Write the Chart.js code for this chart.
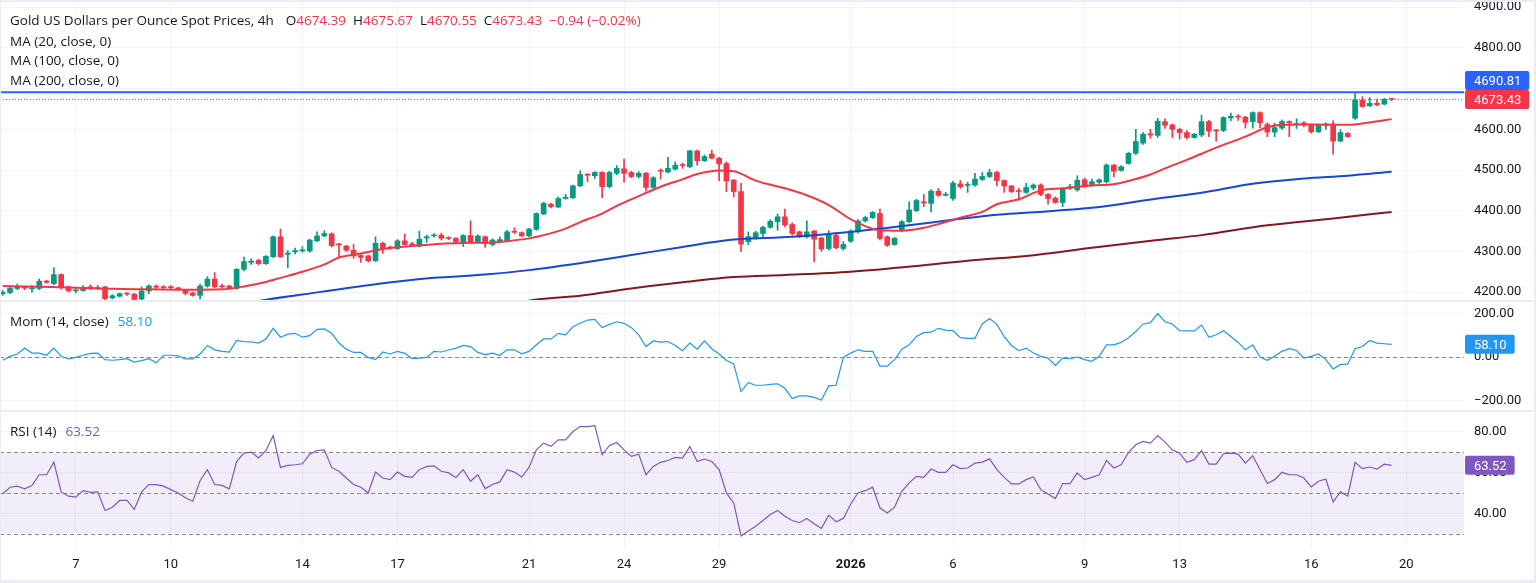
<!DOCTYPE html>
<html>
<head>
<meta charset="utf-8">
<script src="https://cdn.jsdelivr.net/npm/chart.js@4.4.1/dist/chart.umd.min.js"></script>
<style>
  body { margin: 0; background: #fff; }
  #wrap { position: relative; width: 1536px; height: 583px; overflow: hidden; font-family: Roboto, "Noto Sans", sans-serif; }
  canvas { position: absolute; left: 0; }
  .bar { position: absolute; background: #e9ecf2; z-index: 3; }
  .legend { position: absolute; left: 10px; font-family: "Open Sans", Roboto, sans-serif; font-size: 13.5px; line-height: 16px; color: #131722; white-space: pre; z-index: 4; }
  .dn { color: #f23645; }
  .g { margin-left: 7px; }
</style>
</head>
<body>
<div id="wrap">
  <canvas id="main" width="1536" height="300" style="top:0"></canvas>
  <canvas id="mom" width="1536" height="108" style="top:302px"></canvas>
  <canvas id="rsi" width="1536" height="171" style="top:412px"></canvas>

  <div class="bar" style="left:0;top:0;width:1536px;height:2px"></div>
  <div class="bar" style="left:0;top:300px;width:1536px;height:2px"></div>
  <div class="bar" style="left:0;top:410px;width:1536px;height:2px"></div>
  <div class="bar" style="left:0;top:580px;width:1536px;height:3px"></div>
  <div class="bar" style="left:1534px;top:0;width:2px;height:583px"></div>
  <div class="bar" style="left:0;top:0;width:1px;height:583px"></div>

  <div class="legend" style="top:12px">Gold US Dollars per Ounce Spot Prices, 4h<span class="g" style="margin-left:12px">O<span class="dn">4674.39</span></span><span class="g">H<span class="dn">4675.67</span></span><span class="g">L<span class="dn">4670.55</span></span><span class="g">C<span class="dn">4673.43</span></span><span class="g dn">−0.94 (−0.02%)</span></div>
  <div class="legend" style="top:33px">MA (20, close, 0)</div>
  <div class="legend" style="top:52px">MA (100, close, 0)</div>
  <div class="legend" style="top:72px">MA (200, close, 0)</div>
  <div class="legend" style="top:313px">Mom (14, close)<span class="g" style="margin-left:9px;color:#2196f3">58.10</span></div>
  <div class="legend" style="top:423px">RSI (14)<span class="g" style="margin-left:9px;color:#7e57c2">63.52</span></div>
</div>

<script>
// velas de 4h, indice 0..190
const opens = [
  4196,4199,4209,4212,4208,4209,4227,4221,4243,4213,
  4203,4204,4213,4209,4213,4186,4190,4197,4195,4183,
  4203,4214,4213,4213,4210,4205,4198,4192,4215,4232,
  4215,4215,4209,4256,4273,4278,4270,4287,4336,4293,
  4299,4301,4301,4326,4338,4343,4318,4313,4303,4290,
  4289,4277,4320,4310,4307,4326,4318,4313,4333,4338,
  4340,4334,4332,4323,4339,4324,4336,4317,4326,4325,
  4349,4346,4338,4354,4392,4416,4409,4430,4432,4461,
  4490,4486,4494,4459,4492,4503,4494,4484,4492,4457,
  4499,4495,4502,4513,4508,4547,4523,4539,4529,4516,
  4475,4447,4324,4334,4344,4359,4373,4385,4366,4348,
  4336,4350,4333,4307,4340,4307,4325,4348,4375,4383,
  4393,4336,4317,4352,4373,4400,4422,4418,4448,4438,
  4430,4466,4462,4463,4477,4484,4494,4474,4461,4449,
  4445,4456,4463,4440,4431,4420,4455,4451,4476,4462,
  4470,4471,4512,4499,4516,4541,4566,4589,4585,4619,
  4611,4600,4592,4580,4586,4619,4598,4597,4628,4632,
  4630,4619,4641,4612,4593,4603,4619,4612,4616,4611,
  4594,4610,4613,4571,4590,4627,4672,4658,4664,4662,
  4674.39
];
const highs = [
  4204,4212,4220,4215,4216,4232,4229,4260,4245,4215,
  4208,4216,4218,4216,4214,4194,4198,4199,4197,4213,
  4218,4218,4216,4216,4212,4207,4200,4220,4238,4248,
  4220,4217,4258,4286,4282,4281,4290,4338,4355,4302,
  4308,4312,4330,4348,4351,4346,4320,4315,4317,4292,
  4291,4336,4323,4313,4329,4343,4322,4350,4340,4344,
  4345,4336,4334,4341,4375,4341,4338,4331,4336,4352,
  4358,4348,4357,4395,4421,4418,4434,4440,4463,4498,
  4491,4496,4496,4497,4511,4527,4497,4496,4494,4484,
  4503,4531,4520,4517,4549,4549,4537,4549,4531,4520,
  4477,4467,4348,4350,4362,4378,4392,4404,4370,4350,
  4375,4352,4335,4351,4342,4324,4353,4378,4386,4398,
  4404,4338,4335,4376,4422,4428,4440,4452,4455,4445,
  4472,4474,4470,4492,4494,4502,4497,4476,4462,4455,
  4467,4466,4466,4442,4434,4455,4465,4486,4480,4478,
  4478,4515,4514,4511,4544,4600,4592,4600,4627,4626,
  4613,4603,4597,4590,4635,4622,4600,4631,4640,4636,
  4632,4643,4643,4616,4615,4623,4621,4626,4619,4613,
  4613,4616,4621,4599,4592,4690.81,4680,4678,4674,4676,
  4675.67
];
const lows = [
  4192,4196,4206,4206,4200,4206,4222,4218,4207,4200,
  4198,4202,4206,4206,4181,4183,4188,4192,4180,4181,
  4196,4209,4208,4208,4205,4193,4190,4183,4212,4211,
  4210,4207,4207,4252,4268,4267,4268,4285,4285,4260,
  4294,4298,4298,4324,4336,4311,4285,4300,4283,4273,
  4274,4275,4295,4305,4305,4315,4312,4311,4322,4335,
  4328,4329,4321,4312,4321,4320,4310,4314,4322,4323,
  4344,4336,4336,4352,4390,4407,4407,4428,4430,4459,
  4471,4479,4432,4456,4488,4470,4481,4480,4448,4455,
  4478,4493,4500,4504,4506,4512,4521,4527,4474,4447,
  4434,4300,4316,4330,4332,4357,4352,4360,4340,4334,
  4333,4274,4300,4303,4306,4303,4322,4345,4372,4381,
  4328,4312,4315,4348,4370,4398,4410,4397,4435,4436,
  4425,4455,4445,4460,4474,4481,4461,4445,4444,4426,
  4443,4451,4437,4416,4418,4410,4452,4448,4458,4460,
  4467,4468,4483,4497,4514,4538,4563,4578,4580,4602,
  4580,4576,4576,4578,4582,4582,4571,4594,4621,4622,
  4603,4603,4604,4582,4582,4600,4582,4602,4606,4591,
  4592,4600,4539,4569,4580,4624,4654,4656,4658,4660,
  4670.55
];
const closes = [
  4199,4209,4212,4210,4210,4227,4224,4243,4213,4203,
  4205,4212,4209,4211,4184,4191,4196,4195,4182,4203,
  4215,4212,4211,4211,4208,4197,4192,4215,4232,4213,
  4213,4209,4256,4275,4276,4270,4288,4336,4287,4296,
  4302,4304,4328,4338,4344,4314,4316,4303,4289,4285,
  4277,4320,4307,4308,4326,4317,4316,4330,4336,4340,
  4332,4332,4324,4339,4324,4338,4320,4328,4329,4348,
  4347,4338,4355,4393,4418,4410,4430,4433,4461,4489,
  4487,4494,4459,4494,4504,4492,4484,4492,4457,4481,
  4497,4504,4512,4511,4547,4523,4533,4529,4515,4473,
  4447,4318,4336,4346,4359,4374,4385,4365,4344,4336,
  4348,4330,4306,4340,4309,4317,4350,4375,4383,4396,
  4332,4315,4332,4373,4402,4425,4419,4448,4438,4440,
  4468,4459,4464,4478,4484,4494,4474,4461,4447,4447,
  4457,4463,4440,4430,4420,4453,4459,4475,4460,4471,
  4476,4512,4497,4508,4541,4570,4588,4586,4620,4610,
  4600,4592,4580,4588,4619,4596,4596,4629,4632,4630,
  4617,4641,4616,4593,4604,4619,4616,4614,4613,4594,
  4611,4613,4571,4592,4582,4672,4656,4664,4660,4674,
  4673.43
];

// medias moviles: [indice, valor]
const ma20 = [
  [0,4215],[5,4213],[10,4211],[15,4208],[20,4207],[25,4206],[30,4207],[33,4214],[36,4225],[38,4235],
  [41,4250],[44,4268],[46,4285],[49,4295],[52,4306],[56,4313],[60,4319],[64,4321],[67,4322],[69,4325],
  [72,4332],[74,4340],[77,4356],[79,4372],[82,4393],[84,4412],[87,4436],[90,4459],[93,4477],[95,4490],
  [98,4499],[100,4497],[103,4474],[107,4455],[110,4438],[113,4414],[116,4379],[118,4362],[120,4352],[123,4351],
  [126,4358],[128,4367],[131,4383],[134,4397],[136,4416],[139,4428],[142,4450],[145,4455],[149,4462],[152,4465],
  [154,4473],[157,4489],[159,4504],[162,4525],[164,4540],[166,4555],[170,4582],[173,4605],[175,4611],[179,4612],
  [184,4611],[187,4617],[190,4625]
];
const ma100 = [
  [30,4160],[35,4178],[41,4194],[50,4217],[59,4235],[66,4243],[72,4254],[80,4274],[86,4291],[93,4311],
  [100,4329],[106,4334],[113,4343],[122,4360],[131,4380],[136,4390],[140,4395],[149,4407],[158,4430],[164,4444],
  [171,4466],[178,4479],[184,4486],[190,4496]
];
const ma200 = [
  [70,4170],[72,4179],[79,4191],[86,4209],[93,4224],[100,4237],[107,4242],[116,4250],[126,4266],[133,4279],
  [140,4289],[149,4309],[158,4328],[164,4340],[173,4364],[182,4381],[190,4397]
];

const momentum = [
  -15,3,14,41,18,18,8,41,3,-9,
  -2,8,17,18,-12,-15,-12,-8,-23,-17,
  -8,-27,8,8,5,-9,-9,14,53,33,
  26,23,76,71,70,64,83,132,91,105,
  109,91,98,127,129,109,64,36,21,21,
  -2,-12,23,14,26,17,-8,-5,-2,26,
  23,32,41,53,48,21,11,18,8,33,
  33,15,26,56,83,83,109,102,139,155,
  170,173,135,150,162,155,135,102,48,74,
  68,71,53,29,64,36,74,38,14,-16,
  -32,-159,-118,-130,-130,-126,-123,-144,-191,-179,
  -179,-186,-198,-133,-130,-2,18,33,26,26,
  -42,-42,-12,36,56,94,112,114,132,124,
  121,89,86,86,152,177,150,94,53,29,
  41,18,3,-5,-39,-5,-8,0,-12,-20,
  3,56,56,67,89,117,152,158,200,162,
  152,121,120,120,147,91,102,121,94,67,
  33,56,0,-15,3,26,38,30,-5,3,
  14,-12,-55,-35,-32,38,48,76,64,61,
  58.10
];
const rsi = [
  49.5,52.8,53.3,52.0,53.6,58.9,58.9,65.1,50.5,48.4,
  47.9,51.1,50.3,50.5,41.4,43.0,46.3,46.3,41.9,50.5,
  54.1,54.1,53.3,51.6,50.0,47.6,45.9,56.0,61.4,54.1,
  53.7,52.0,65.4,69.5,70.0,67.1,70.7,78.1,62.5,63.5,
  63.8,64.3,69.0,70.8,71.1,62.5,60.6,57.3,54.1,52.8,
  50.0,60.2,57.3,56.5,60.2,58.1,57.6,61.4,63.0,63.3,
  60.6,59.8,57.6,61.4,55.7,58.9,52.1,54.1,55.4,61.4,
  60.2,57.8,62.5,71.1,74.4,72.8,76.0,76.0,80.1,82.5,
  82.5,83.0,68.7,73.3,74.7,71.1,67.9,69.0,58.9,63.0,
  65.0,65.9,67.4,67.1,72.8,65.4,66.6,65.4,61.4,50.0,
  45.1,28.9,31.3,33.7,36.5,39.4,41.4,38.6,36.5,35.4,
  37.5,34.9,32.6,39.1,35.9,37.5,44.6,50.0,51.1,52.8,
  42.7,40.2,43.0,50.8,54.9,58.1,57.6,61.7,60.1,60.1,
  63.8,61.9,62.2,64.6,65.1,66.7,61.4,57.6,54.4,54.4,
  56.5,57.8,51.6,49.5,47.2,54.6,54.6,59.8,56.5,57.6,
  58.9,65.9,62.2,63.8,69.8,73.6,75.2,74.4,78.1,74.9,
  71.1,69.5,65.0,66.3,70.7,64.1,64.1,69.2,69.5,69.0,
  64.6,68.2,61.4,54.6,56.5,60.1,58.9,58.9,57.3,52.9,
  55.7,56.8,45.6,50.5,48.4,65.0,61.9,62.7,61.7,64.1,
  63.52
];

const dayTicks = [10, 23, 41, 54, 72, 85, 98, 116, 130, 148, 161, 179, 192];
const dayLabels = ['7', '10', '14', '17', '21', '24', '29', '2026', '6', '9', '13', '16', '20'];
const priceTicks = [4200, 4300, 4400, 4500, 4600, 4700, 4800, 4900];
const momTicks = [-200, 0, 200];
const rsiTicks = [40, 60, 80];
const highLevel = 4690.81;

const X_MIN = -0.37, X_MAX = 199.9;
const FONT = 'Roboto, "Noto Sans", sans-serif';
const UP = '#089981', DOWN = '#f23645';
const last = closes.length - 1;
const candleColors = closes.map((c, i) => c >= opens[i] ? UP : DOWN);
const fmt = v => (v < 0 ? '\u2212' : '') + Math.abs(v).toFixed(2);

function xAxis(showLabels) {
    return {
        type: 'linear', min: X_MIN, max: X_MAX, offset: false,
        afterBuildTicks: s => { s.ticks = dayTicks.map(v => ({ value: v })); },
        grid: { color: '#f0f3fa', drawTicks: false, offset: false },
        border: { display: false },
        ticks: {
            display: showLabels, autoSkip: false, maxRotation: 0, padding: 9, color: '#131722',
            font: ctx => ({ family: FONT, size: 13, weight: dayLabels[ctx.index] === '2026' ? 'bold' : 'normal' }),
            callback: (v, i) => dayLabels[i]
        },
        afterFit: s => { s.height = showLabels ? 35 : 0; s.paddingLeft = 0; s.paddingRight = 0; }
    };
}

function yAxis(min, max, ticks) {
    return {
        position: 'right', min, max, beginAtZero: false,
        afterBuildTicks: s => { s.ticks = ticks.map(v => ({ value: v })); },
        grid: { color: '#f0f3fa', drawTicks: false },
        border: { display: false },
        ticks: { padding: 10, color: '#131722', font: { family: FONT, size: 13 }, callback: v => fmt(v) },
        afterFit: s => { s.width = 72; s.paddingTop = 0; s.paddingBottom = 0; }
    };
}

// etiquetas de ultimo valor en el eje derecho
const valueTags = {
    id: 'valueTags',
    afterDraw(chart, args, opts) {
        const { ctx, chartArea: a, scales: { y } } = chart;
        ctx.save();
        ctx.font = '13px ' + FONT;
        ctx.textBaseline = 'middle';
        let prevTop = null;
        (opts.tags || []).forEach(t => {
            const h = 19;
            let cy = y.getPixelForValue(t.value);
            if (prevTop !== null && cy + h / 2 > prevTop) cy = prevTop - h / 2;
            const w = ctx.measureText(t.text).width + 17;
            ctx.fillStyle = t.color;
            ctx.beginPath();
            ctx.roundRect(a.right + 1, cy - h / 2, w, h, 2);
            ctx.fill();
            ctx.fillStyle = '#fff';
            ctx.fillText(t.text, a.right + 10, cy + 1);
            prevTop = cy - h / 2;
        });
        ctx.restore();
    }
};

// bandas y lineas discontinuas de los indicadores
const guides = {
    id: 'guides',
    beforeDatasetsDraw(chart, args, opts) {
        const { ctx, chartArea: a, scales: { y } } = chart;
        ctx.save();
        if (opts.band) {
            const top = y.getPixelForValue(opts.band[1]);
            const bottom = y.getPixelForValue(opts.band[0]);
            ctx.fillStyle = 'rgba(126, 87, 194, 0.1)';
            ctx.fillRect(a.left, top, a.width, bottom - top);
        }
        ctx.strokeStyle = '#868993';
        ctx.lineWidth = 1;
        ctx.setLineDash([4, 3]);
        (opts.dashed || []).forEach(v => {
            const py = Math.round(y.getPixelForValue(v)) + 0.5;
            ctx.beginPath();
            ctx.moveTo(a.left, py);
            ctx.lineTo(a.right, py);
            ctx.stroke();
        });
        ctx.restore();
    }
};

const common = {
    responsive: false, animation: false, events: [],
    plugins: { legend: { display: false }, tooltip: { enabled: false } }
};

const maLine = (pts, color, order) => ({
    type: 'line', data: pts.map(([x, y]) => ({ x, y })), borderColor: color, borderWidth: 2,
    pointRadius: 0, cubicInterpolationMode: 'monotone', order
});

// Grafico principal de velas
new Chart(document.getElementById('main'), {
    type: 'bar',
    data: {
        datasets: [
            {
                label: 'wicks', data: closes.map((c, i) => ({ x: i, y: [lows[i], highs[i]] })),
                backgroundColor: candleColors, barThickness: 1, grouped: false, order: 6
            },
            {
                label: 'bodies', data: closes.map((c, i) => ({ x: i, y: [opens[i], c] })),
                backgroundColor: candleColors, barThickness: 5, minBarLength: 1, grouped: false, order: 5
            },
            maLine(ma200, '#801922', 4),
            maLine(ma100, '#1848cc', 3),
            maLine(ma20, '#f23645', 2),
            {
                type: 'line', data: [{ x: X_MIN, y: highLevel }, { x: X_MAX, y: highLevel }],
                borderColor: '#2962ff', borderWidth: 2, pointRadius: 0, order: 1
            },
            {
                type: 'line', data: [{ x: X_MIN, y: closes[last] }, { x: X_MAX, y: closes[last] }],
                borderColor: '#f23645', borderWidth: 1, borderDash: [1, 2], pointRadius: 0, order: 0
            }
        ]
    },
    options: {
        ...common,
        layout: { padding: { top: 2 } },
        plugins: {
            ...common.plugins,
            valueTags: { tags: [
                { value: closes[last], text: closes[last].toFixed(2), color: '#f23645' },
                { value: highLevel, text: highLevel.toFixed(2), color: '#2962ff' }
            ] }
        },
        scales: { x: xAxis(false), y: yAxis(4180.6, 4912.8, priceTicks) }
    },
    plugins: [valueTags]
});

// Momentum
new Chart(document.getElementById('mom'), {
    type: 'line',
    data: {
        datasets: [{
            data: momentum.map((v, i) => ({ x: i, y: v })),
            borderColor: '#2196f3', borderWidth: 1.2, pointRadius: 0, tension: 0
        }]
    },
    options: {
        ...common,
        plugins: {
            ...common.plugins,
            guides: { dashed: [0] },
            valueTags: { tags: [{ value: momentum[last], text: momentum[last].toFixed(2), color: '#2196f3' }] }
        },
        scales: { x: xAxis(false), y: yAxis(-243.7, 252.9, momTicks) }
    },
    plugins: [guides, valueTags]
});

// RSI
new Chart(document.getElementById('rsi'), {
    type: 'line',
    data: {
        datasets: [{
            data: rsi.map((v, i) => ({ x: i, y: v })),
            borderColor: '#7e57c2', borderWidth: 1.2, pointRadius: 0, tension: 0
        }]
    },
    options: {
        ...common,
        plugins: {
            ...common.plugins,
            guides: { band: [30, 70], dashed: [30, 50, 70] },
            valueTags: { tags: [{ value: rsi[last], text: rsi[last].toFixed(2), color: '#7e57c2' }] }
        },
        scales: { x: xAxis(true), y: yAxis(23.0, 89.66, rsiTicks) }
    },
    plugins: [guides, valueTags]
});
</script>
</body>
</html>
